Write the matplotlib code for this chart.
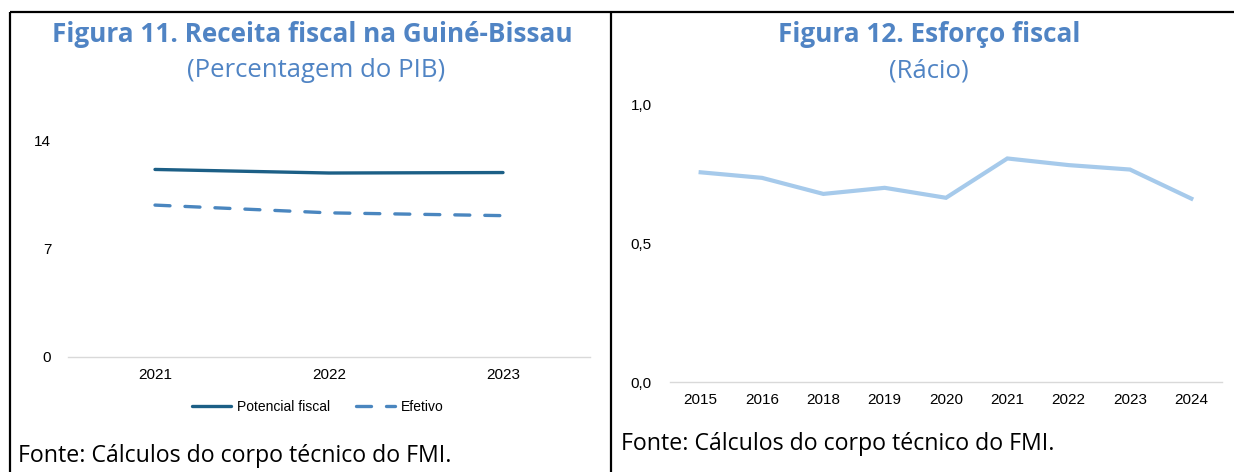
import matplotlib
matplotlib.use("Agg")
import matplotlib.pyplot as plt
from matplotlib.lines import Line2D

# ---- data ----
years_left = ["2021", "2022", "2023"]
potencial_fiscal = [12.1, 11.87, 11.9]
efetivo = [9.8, 9.3, 9.12]
left_yticks = [0, 7, 14]

years_right = ["2015", "2016", "2018", "2019", "2020", "2021", "2022", "2023", "2024"]
esforco = [0.757, 0.737, 0.679, 0.701, 0.665, 0.807, 0.783, 0.767, 0.662]
right_yticks = [0.0, 0.5, 1.0]
right_yticklabels = ["0,0", "0,5", "1,0"]

W, H = 1234, 472
fig = plt.figure(figsize=(W / 100, H / 100), dpi=100)

TITLE_C = "#5084C4"
TXT_FONT = ["Open Sans", "DejaVu Sans"]
TICK_FONT = ["Liberation Sans", "DejaVu Sans"]

def fx(px):
    return px / W

def fy(py):
    return 1 - py / H

# ---- borders ----
border_kw = dict(color="black", lw=1.6, transform=fig.transFigure, solid_capstyle="butt")
fig.add_artist(Line2D([fx(10), fx(W)], [fy(12), fy(12)], **border_kw))
fig.add_artist(Line2D([fx(10.5), fx(10.5)], [fy(12), fy(H)], **border_kw))
fig.add_artist(Line2D([fx(611), fx(611)], [fy(12), fy(H)], **border_kw))

# ---- titles ----
fig.text(fx(312), fy(34), "Figura 11. Receita fiscal na Guiné-Bissau", ha="center", va="center",
         fontsize=18.8, fontweight="bold", color=TITLE_C, family=TXT_FONT)
fig.text(fx(316), fy(71), "(Percentagem do PIB)", ha="center", va="center",
         fontsize=18.5, color=TITLE_C, family=TXT_FONT)
fig.text(fx(929), fy(34), "Figura 12. Esforço fiscal", ha="center", va="center",
         fontsize=18.8, fontweight="bold", color=TITLE_C, family=TXT_FONT)
fig.text(fx(929), fy(71), "(Rácio)", ha="center", va="center",
         fontsize=18.5, color=TITLE_C, family=TXT_FONT)

# ---- footers ----
fig.text(fx(18), fy(456), "Fonte: Cálculos do corpo técnico do FMI.", ha="left", va="center",
         fontsize=16.7, color="black", family=TXT_FONT)
fig.text(fx(621), fy(444), "Fonte: Cálculos do corpo técnico do FMI.", ha="left", va="center",
         fontsize=16.7, color="black", family=TXT_FONT)

def style_axes(ax):
    for s in ["top", "right", "left"]:
        ax.spines[s].set_visible(False)
    ax.spines["bottom"].set_color("#D9D9D9")
    ax.spines["bottom"].set_linewidth(1.0)
    ax.tick_params(axis="both", length=0, labelsize=11, colors="black")
    for lab in ax.get_xticklabels() + ax.get_yticklabels():
        lab.set_family(TICK_FONT)
    ax.patch.set_alpha(0)

# ---- left chart ----
axL = fig.add_axes([fx(68), fy(357), fx(590) - fx(68), fy(140) - fy(357)])
xl = range(len(years_left))
axL.plot(xl, potencial_fiscal, color="#1C5F86", lw=2.4, label="Potencial fiscal",
         solid_capstyle="round")
axL.plot(xl, efetivo, color="#4A86BF", lw=2.4, ls=(0, (4.5, 4.5)), label="Efetivo",
         dash_capstyle="round")
axL.set_xlim(-0.5, len(years_left) - 0.5)
axL.set_ylim(0, 14)
axL.set_yticks(left_yticks)
axL.set_yticklabels([str(v) for v in left_yticks])
axL.set_xticks(list(xl))
axL.set_xticklabels(years_left)
axL.tick_params(axis="y", pad=12)
axL.tick_params(axis="x", pad=8)
style_axes(axL)
leg = axL.legend(loc="center", ncol=2, frameon=False, handlelength=2.8, columnspacing=1.9,
                 handletextpad=0.4, prop={"family": TICK_FONT, "size": 10})
leg.set_bbox_to_anchor((fx(318), fy(407)), transform=fig.transFigure)

# ---- right chart ----
axR = fig.add_axes([fx(670), fy(382), fx(1222) - fx(670), fy(105) - fy(382)])
xr = range(len(years_right))
axR.plot(xr, esforco, color="#A6CAEB", lw=3.0, solid_joinstyle="miter")
axR.set_xlim(-0.5, len(years_right) - 0.5)
axR.set_ylim(0, 1.0)
axR.set_yticks(right_yticks)
axR.set_yticklabels(right_yticklabels)
axR.set_xticks(list(xr))
axR.set_xticklabels(years_right)
axR.tick_params(axis="y", pad=13)
axR.tick_params(axis="x", pad=8)
style_axes(axR)

fig.savefig("out.png", dpi=100)
